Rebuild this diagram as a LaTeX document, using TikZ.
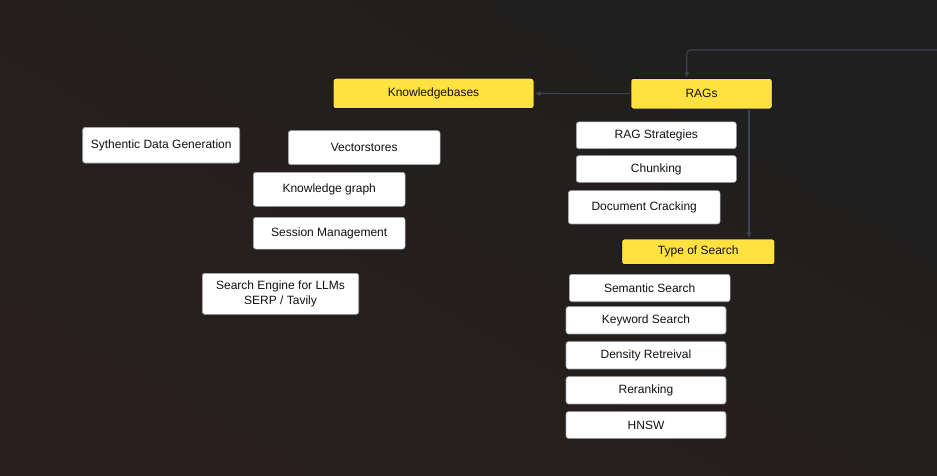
\documentclass[tikz,border=0pt]{standalone}
\usepackage{fontspec}
\setmainfont{Liberation Sans}
\usetikzlibrary{arrows.meta}
\definecolor{bgA}{HTML}{1F1F1F}
\definecolor{bgD}{HTML}{281F1C}
\definecolor{ylw}{HTML}{FFE142}
\definecolor{ylwborder}{HTML}{151515}
\definecolor{wborder}{HTML}{9EA3AA}
\definecolor{conncol}{HTML}{3C424D}
\definecolor{txt}{HTML}{111111}
\tikzset{
  wbox/.style={draw=wborder, line width=0.6pt, fill=white, rounded corners=2.5pt, inner sep=0pt, font=\fontsize{12}{14.5}\selectfont, text=txt, align=center},
  ybox/.style={draw=ylwborder, line width=1pt, fill=ylw, rounded corners=2.5pt, inner sep=0pt, font=\fontsize{12}{14.5}\selectfont, text=txt, align=center},
  conn/.style={draw=conncol, line width=1.1pt, -{Latex[length=6pt,width=5pt]}},
}
\begin{document}
\begin{tikzpicture}[x=1pt,y=-1pt]
\fill[bgA] (0,0) rectangle (937,476);
\shade[left color=bgA, right color=bgD, shading angle=-30] (0,0) rectangle (937,476);
\useasboundingbox (0,0) rectangle (937,476);

\node[ybox, minimum width=201pt, minimum height=30.5pt] (kb) at (433.5,93.5) {Knowledgebases};
\node[ybox, minimum width=141.5pt, minimum height=30.7pt] (rags) at (701.5,93.7) {RAGs};
\node[wbox, minimum width=160pt, minimum height=26.7pt] (strat) at (656.3,135.3) {RAG Strategies};
\node[wbox, minimum width=160pt, minimum height=26.7pt] (chunk) at (656.3,169) {Chunking};
\node[wbox, minimum width=151.7pt, minimum height=33.3pt] (crack) at (644.2,207.3) {Document Cracking};
\node[ybox, minimum width=153.3pt, minimum height=25.7pt] (tos) at (698.3,251.8) {Type of Search};
\node[wbox, minimum width=160.7pt, minimum height=27.4pt] (sem) at (649.7,288) {Semantic Search};
\node[wbox, minimum width=160pt, minimum height=27.3pt] (kw) at (646,320.3) {Keyword Search};
\node[wbox, minimum width=160pt, minimum height=27.3pt] (dens) at (646,355.3) {Density Retreival};
\node[wbox, minimum width=160pt, minimum height=27.3pt] (rerank) at (646,390.3) {Reranking};
\node[wbox, minimum width=160pt, minimum height=26.7pt] (hnsw) at (646,425) {HNSW};

\node[wbox, minimum width=157pt, minimum height=35.7pt] (synth) at (161.2,145.2) {Sythentic Data Generation};
\node[wbox, minimum width=151.7pt, minimum height=34pt] (vec) at (364.2,147.7) {Vectorstores};
\node[wbox, minimum width=151.7pt, minimum height=34pt] (kg) at (329.2,189.3) {Knowledge graph};
\node[wbox, minimum width=151.7pt, minimum height=31.7pt] (sess) at (329.2,233.2) {Session Management};
\node[wbox, minimum width=156.4pt, minimum height=41pt] (se) at (280.5,293.8) {Search Engine for LLMs\\SERP / Tavily};

\coordinate (tr) at (937,50);
\draw[conn, rounded corners=4pt] (tr) -| ([xshift=-14.8pt]rags.north);
\draw[conn] (rags.west) -- (kb.east);
\draw[conn] ([xshift=47.5pt]rags.south) coordinate (rs) -- (rs |- tos.north);
\end{tikzpicture}
\end{document}
